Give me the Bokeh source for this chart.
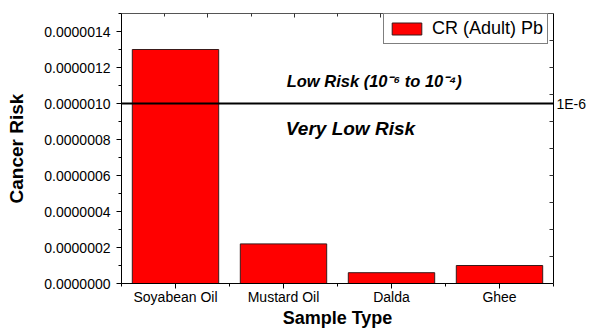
from bokeh.plotting import figure
from bokeh.models import (Range1d, LinearAxis, FixedTicker, SingleIntervalTicker,
                          PrintfTickFormatter, Span, Label, ColumnDataSource)
from bokeh.embed import file_html
from bokeh.resources import INLINE

categories = ["Soyabean Oil", "Mustard Oil", "Dalda", "Ghee"]
cr_adult_pb = [1.30e-6, 0.22e-6, 0.06e-6, 0.10e-6]
series_name = "CR (Adult) Pb"
threshold = 1e-6
threshold_label = "1E-6"
upper_zone_label = "Low Risk (10\u207b\u2076 to 10\u207b\u2074)"
lower_zone_label = "Very Low Risk"

FONT = "Liberation Sans"
Y_MAX = 1.5e-6
xs = list(range(1, len(categories) + 1))
src = ColumnDataSource(dict(x=xs, top=cr_adult_pb, cat=categories))

p = figure(width=595, height=330, output_backend="svg", toolbar_location=None,
           x_range=Range1d(0.5, 4.5), y_range=Range1d(0, Y_MAX),
           min_border_left=121, min_border_right=42, min_border_top=13,
           min_border_bottom=46)
p.outline_line_color = None
p.grid.visible = False
p.background_fill_color = "white"
p.border_fill_color = "white"

p.vbar(x="x", top="top", width=0.8, bottom=0, source=src, fill_color="#FF0000",
       line_color="#3a1a1a", line_width=1, legend_label=series_name)

p.add_layout(Span(location=threshold, dimension="width", line_color="black", line_width=2))
p.add_layout(Label(x=2.84, y=1.125e-6, text=upper_zone_label, text_align="center",
                   text_baseline="middle", text_font=FONT, text_font_size="16.5px",
                   text_font_style="bold italic", text_color="black"))
p.add_layout(Label(x=2.62, y=0.86e-6, text=lower_zone_label, text_align="center",
                   text_baseline="middle", text_font=FONT, text_font_size="19px",
                   text_font_style="bold italic", text_color="black"))

# bottom axis
xa = p.xaxis[0]
xa.ticker = FixedTicker(ticks=xs, minor_ticks=[0.5 + i for i in range(len(xs) + 1)])
xa.major_label_overrides = {x: c for x, c in zip(xs, categories)}
xa.major_label_text_font = FONT
xa.major_label_text_font_size = "14px"
xa.major_label_text_color = "black"
xa.major_tick_in = 0
xa.major_tick_out = 5
xa.minor_tick_in = 0
xa.minor_tick_out = 3
xa.axis_line_color = "black"
xa.major_tick_line_color = "black"
xa.minor_tick_line_color = "black"
xa.axis_label = "Sample Type"
xa.axis_label_text_font = FONT
xa.axis_label_text_font_size = "18px"
xa.axis_label_text_font_style = "bold"
xa.axis_label_text_color = "black"
xa.axis_label_standoff = 0
xa.major_label_standoff = 0

# left axis
ya = p.yaxis[0]
ya.ticker = SingleIntervalTicker(interval=0.2e-6, num_minor_ticks=2)
ya.formatter = PrintfTickFormatter(format="%.7f")
ya.major_label_text_font = FONT
ya.major_label_text_font_size = "14px"
ya.major_label_text_color = "black"
ya.major_tick_in = 0
ya.major_tick_out = 5
ya.minor_tick_in = 0
ya.minor_tick_out = 3
ya.axis_line_color = "black"
ya.major_tick_line_color = "black"
ya.minor_tick_line_color = "black"
ya.axis_label = "Cancer Risk"
ya.axis_label_text_font = FONT
ya.axis_label_text_font_size = "19px"
ya.axis_label_text_font_style = "bold"
ya.axis_label_text_color = "black"
ya.axis_label_standoff = 14
ya.major_label_standoff = 6

# top decorative axis (ticks only)
p.extra_x_ranges = {"top": Range1d(0, 10)}
deco_ticks = [2, 4, 6, 8]
ta = LinearAxis(x_range_name="top",
                ticker=FixedTicker(ticks=deco_ticks, minor_ticks=[1, 3, 5, 7, 9]))
ta.major_label_overrides = {t: "" for t in deco_ticks}
ta.major_label_standoff = 0
ta.major_tick_out = 0
ta.major_tick_in = 4
ta.minor_tick_out = 0
ta.minor_tick_in = 3
ta.axis_line_color = "#555555"
ta.major_tick_line_color = "#333333"
ta.minor_tick_line_color = "#333333"
p.add_layout(ta, "above")

# right axis: inward ticks, with the threshold labelled
right_minor = [Y_MAX * k / 10 for k in range(1, 10)]
ra = LinearAxis(ticker=FixedTicker(ticks=[threshold], minor_ticks=right_minor))
ra.major_label_overrides = {threshold: threshold_label}
ra.axis_line_color = "black"
ra.major_tick_line_color = "black"
ra.minor_tick_line_color = "#333333"
ra.major_tick_out = 0
ra.major_tick_in = 0
ra.minor_tick_out = 0
ra.minor_tick_in = 4
ra.major_label_standoff = 3
ra.major_label_text_font = FONT
ra.major_label_text_font_size = "14px"
ra.major_label_text_color = "black"
p.add_layout(ra, "right")

lg = p.legend[0]
lg.location = (262, 239)
lg.label_text_font = FONT
lg.label_text_font_size = "18px"
lg.label_text_color = "black"
lg.glyph_width = 37
lg.glyph_height = 15
lg.border_line_color = "black"
lg.border_line_width = 1
lg.padding = 4
lg.spacing = 0
lg.margin = 0
lg.label_standoff = 7
lg.background_fill_alpha = 1

open("out.html", "w").write(file_html(p, INLINE))
